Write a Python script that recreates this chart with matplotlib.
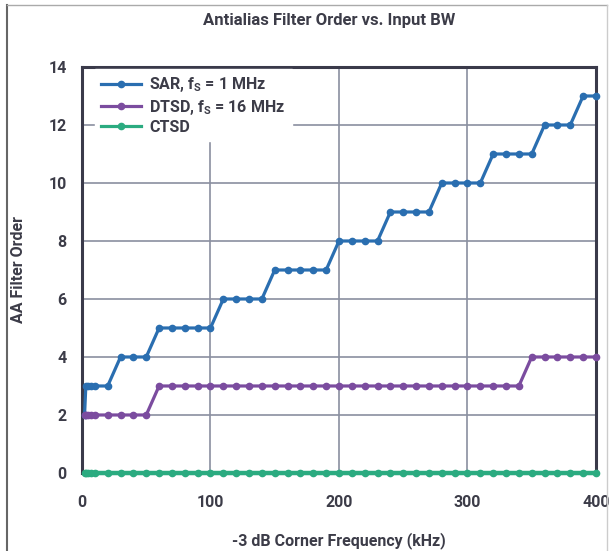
import matplotlib.pyplot as plt
from matplotlib.lines import Line2D

# corner frequency (kHz) sample points
freq = [2, 3, 5, 7, 10, 20, 30, 40, 50, 60, 70, 80, 90, 100,
        110, 120, 130, 140, 150, 160, 170, 180, 190, 200,
        210, 220, 230, 240, 250, 260, 270, 280, 290, 300,
        310, 320, 330, 340, 350, 360, 370, 380, 390, 400]

sar_order = [2, 3, 3, 3, 3, 3, 4, 4, 4, 5, 5, 5, 5, 5,
             6, 6, 6, 6, 7, 7, 7, 7, 7, 8,
             8, 8, 8, 9, 9, 9, 9, 10, 10, 10,
             10, 11, 11, 11, 11, 12, 12, 12, 13, 13]

dtsd_order = [2, 2, 2, 2, 2, 2, 2, 2, 2, 3, 3, 3, 3, 3,
              3, 3, 3, 3, 3, 3, 3, 3, 3, 3,
              3, 3, 3, 3, 3, 3, 3, 3, 3, 3,
              3, 3, 3, 3, 4, 4, 4, 4, 4, 4]

ctsd_order = [0] * len(freq)

labels = [r'SAR, f$_\mathregular{S}$ = 1 MHz',
          r'DTSD, f$_\mathregular{S}$ = 16 MHz',
          'CTSD']
colors = ['#2a6eb0', '#7b4c9f', '#2bab80']

txt = '#3c3c48'
plt.rcParams['font.family'] = ['Roboto', 'DejaVu Sans']
plt.rcParams['font.weight'] = 'bold'

fig = plt.figure(figsize=(6.1, 5.51), dpi=100)
ax = fig.add_axes([0.1344, 0.1416, 0.8426, 0.7368])

for y, c, lab in zip([sar_order, dtsd_order, ctsd_order], colors, labels):
    lw = 3.2 if lab == 'CTSD' else 2.3
    ax.plot(freq, y, color=c, lw=lw, marker='o', ms=4.5, label=lab,
            clip_on=False, zorder=5)

ax.set_xlim(0, 400)
ax.set_ylim(0, 14)
ax.set_xticks([0, 100, 200, 300, 400])
ax.set_yticks(range(0, 15, 2))
ax.grid(True, color='#8a8fa0', lw=1.2)
ax.set_axisbelow(True)
ax.tick_params(length=0, labelsize=11.5, labelcolor=txt)
ax.tick_params(axis='x', pad=16)
ax.tick_params(axis='y', pad=11)
for s in ax.spines.values():
    s.set_color('#3a3a4a')
    s.set_linewidth(2.2)

ax.set_xlabel('-3 dB Corner Frequency (kHz)', fontsize=11.5, color=txt,
              labelpad=16, fontweight='bold')
ax.set_ylabel('AA Filter Order', fontsize=11.5, color=txt,
              labelpad=16, fontweight='bold')
fig.text(0.54, 0.963, 'Antialias Filter Order vs. Input BW', ha='center', va='center',
         fontsize=12, color=txt, fontweight='bold')

handles = [Line2D([0, 0.5, 1], [0, 0, 0], color=c, lw=2.3, marker='o', ms=4.5,
                  markevery=[1]) for c in colors]
leg = ax.legend(handles, labels, loc='upper left', bbox_to_anchor=(0.025, 0.995),
                frameon=True, fontsize=11.5, handlelength=2.5, handletextpad=0.5,
                labelspacing=0.2, borderaxespad=0, fancybox=False)
leg.get_frame().set_edgecolor('white')
leg.get_frame().set_alpha(1)
for t in leg.get_texts():
    t.set_color(txt)

# outer frame around the figure
fig.add_artist(Line2D([7 / 610, 7 / 610], [0, 546 / 551], color='#666666', lw=1.5))
fig.add_artist(Line2D([7 / 610, 607 / 610], [546 / 551, 546 / 551], color='#aaaaaa', lw=1))
fig.add_artist(Line2D([607 / 610, 607 / 610], [0, 546 / 551], color='#cccccc', lw=1))

fig.savefig('out.png', dpi=100)
